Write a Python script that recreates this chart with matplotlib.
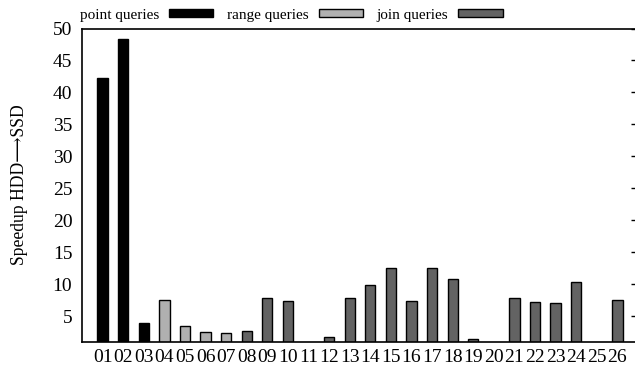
import matplotlib
matplotlib.use('Agg')
import matplotlib.pyplot as plt

# query ids and speedup values, grouped by query type
labels = ['%02d' % i for i in range(1, 27)]
point_ids = [1, 2, 3]
point_vals = [42.3, 48.3, 4.0]
range_ids = [4, 5, 6, 7]
range_vals = [7.45, 3.5, 2.5, 2.3]
join_ids = list(range(8, 27))
join_vals = [2.7, 7.8, 7.3, 0.5, 1.8, 7.8, 9.9, 12.6, 7.4, 12.6, 10.8,
             1.35, 0.5, 7.8, 7.2, 7.0, 10.3, 0.5, 7.5]

plt.rcParams['font.family'] = ['Liberation Serif', 'DejaVu Serif']
plt.rcParams['font.size'] = 14

fig = plt.figure(figsize=(6.35, 3.70), dpi=100)
ax = fig.add_axes([82 / 635, 1 - 341.7 / 370, (638 - 82) / 635, (341.7 - 28.5) / 370])

w = 0.5
ax.bar(point_ids, point_vals, w, color='black', edgecolor='black', linewidth=1,
       label='point queries')
ax.bar(range_ids, range_vals, w, color='#b0b0b0', edgecolor='black', linewidth=1,
       label='range queries')
ax.bar(join_ids, join_vals, w, color='#636363', edgecolor='black', linewidth=1,
       label='join queries')

ax.set_xlim(0, 27)
ax.set_ylim(1, 50)
ax.set_xticks(range(1, 27))
ax.set_xticklabels(labels)
ax.set_yticks(range(5, 51, 5))
ax.tick_params(axis='x', length=0, pad=5)
ax.tick_params(axis='y', which='both', left=False, right=True, direction='in',
               length=5, width=1, pad=7)
for s in ax.spines.values():
    s.set_linewidth(1.2)

ax.set_ylabel('Speedup HDD\u27f6SSD', fontsize=12.7, labelpad=18)

ax.legend(loc='center left', bbox_to_anchor=(80 / 635, 1 - 15 / 370),
          bbox_transform=fig.transFigure, ncol=3, frameon=False, markerfirst=False,
          borderpad=0, borderaxespad=0, handlelength=2.9, handleheight=0.45,
          handletextpad=0.65, columnspacing=0.9, fontsize=11)

fig.savefig('out.png', dpi=100)
